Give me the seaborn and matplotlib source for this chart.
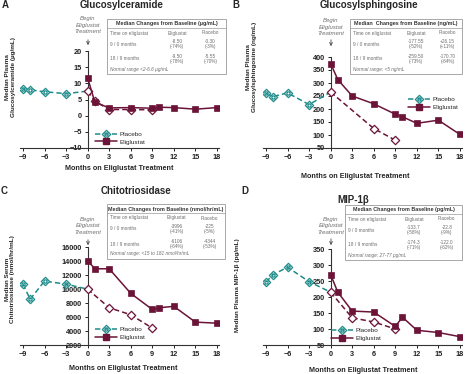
#Eliglustat biomarker panels: median values over time for placebo and eliglustat groups

#Import modules
import matplotlib
matplotlib.use('Agg')
import matplotlib.pyplot as plt
import seaborn as sb
from matplotlib.lines import Line2D
from matplotlib.patches import Rectangle, FancyArrowPatch
from matplotlib.path import Path

#Colours
teal = '#1E8C8A'
maroon = '#6B1438'
grey = '#6E6E6E'
frame_grey = '#9A9A9A'

#Shared months
placebo_months = [-9, -8, -6, -3, 0]
elig_months = [0, 1, 3, 6, 9, 10, 12, 15, 18]
month_ticks = [-9, -6, -3, 0, 3, 6, 9, 12, 15, 18]
table_cols = ['Time on eliglustat', 'Eliglustat', 'Placebo']

#A - Glucosylceramide (ug/mL)
glccer_placebo = [8.2, 8.0, 7.4, 6.8, 7.6]
glccer_cross_months = [0, 1, 3, 6, 9]
glccer_cross = [7.6, 4.5, 1.9, 1.9, 1.8]
glccer_elig = [11.7, 4.2, 2.4, 2.5, 2.3, 2.6, 2.5, 2.0, 2.5]
glccer_ticks = [-10, -5, 0, 5, 10, 15, 20]
glccer_rows = [['9 / 0 months', '-8.50\n(-74%)', '-0.30\n(-3%)'],
               ['18 / 9 months', '-9.50\n(-78%)', '-5.55\n(-70%)']]

#B - Glucosylsphingosine (ng/mL)
glcsph_placebo = [260, 248, 262, 217, 265]
glcsph_cross_months = [0, 6, 9]
glcsph_cross = [265, 125, 80]
glcsph_elig = [375, 313, 250, 220, 180, 170, 145, 157, 102]
glcsph_ticks = [50, 100, 150, 200, 250, 300, 350, 400]
glcsph_rows = [['9 / 0 months', '-177.55\n(-52%)', '+26.15\n(+11%)'],
               ['18 / 9 months', '-259.50\n(-73%)', '-170.70\n(-64%)']]

#C - Chitotriosidase (nmol/hr/mL)
chito_placebo = [10700, 8550, 11150, 10700, 10000]
chito_cross_months = [0, 3, 6, 9]
chito_cross = [10000, 7350, 6350, 4450]
chito_elig = [14050, 12900, 12900, 9400, 7100, 7350, 7550, 5300, 5150]
chito_ticks = [2000, 4000, 6000, 8000, 10000, 12000, 14000, 16000]
chito_rows = [['9 / 0 months', '-3996\n(-41%)', '-225\n(-5%)'],
              ['18 / 9 months', '-6106\n(-64%)', '-4344\n(-53%)']]

#D - MIP-1beta (pg/mL)
mip_placebo = [247, 270, 293, 248, 215]
mip_cross_months = [0, 3, 6, 9]
mip_cross = [215, 135, 122, 100]
mip_elig = [270, 215, 156, 153, 108, 137, 96, 89, 76]
mip_ticks = [50, 100, 150, 200, 250, 300, 350]
mip_rows = [['9 / 0 months', '-133.7\n(-58%)', '-22.8\n(-9%)'],
            ['18 / 9 months', '-174.3\n(-71%)', '-122.0\n(-62%)']]

#Style
sb.set_style('white')
plt.rcParams['font.family'] = ['Liberation Sans', 'DejaVu Sans']

#Markers: open diamond with a ring inside for placebo
diamond = Path([(0, 1), (1, 0), (0, -1), (-1, 0), (0, 1)],
               [Path.MOVETO, Path.LINETO, Path.LINETO, Path.LINETO, Path.CLOSEPOLY])
diamond_ring = Path.make_compound_path(diamond, Path.circle((0, 0), 0.38))
dash = (0, (3.5, 2))
dia_size = 6
sq_size = 4.8

W, H = 465, 374
fig = plt.figure(figsize=(W / 100, H / 100), dpi=100)

def fx(px):
    return px / W

def fy(py):
    return 1 - py / H

def draw_panel(rect, ylim, yticks, cross_months, placebo, cross, elig, legend_xy):
    left, top, right, bottom = rect
    ax = fig.add_axes([fx(left), fy(bottom), (right - left) / W, (bottom - top) / H])
    sb.lineplot(x=placebo_months, y=placebo, ax=ax, errorbar=None, color=teal, lw=1.1,
                linestyle=dash, marker=diamond_ring, markersize=dia_size, markerfacecolor='white',
                markeredgecolor=teal, markeredgewidth=0.9, markevery=[0, 1, 2, 3], zorder=3)
    sb.lineplot(x=cross_months, y=cross, ax=ax, errorbar=None, color=maroon, lw=1.1,
                linestyle=dash, marker=diamond, markersize=dia_size, markerfacecolor='white',
                markeredgecolor=maroon, markeredgewidth=0.9, zorder=4)
    sb.lineplot(x=elig_months, y=elig, ax=ax, errorbar=None, color=maroon, lw=1.1,
                marker='s', markersize=sq_size, markerfacecolor=maroon,
                markeredgecolor=maroon, markeredgewidth=0.5, zorder=5)
    ax.set_xlim(-9.4, 18.3)
    ax.set_ylim(*ylim)
    ax.set_xticks(month_ticks)
    ax.set_yticks(yticks)
    ax.set_xlabel('')
    ax.set_ylabel('')
    ax.spines['top'].set_visible(False)
    ax.spines['right'].set_visible(False)
    ax.spines['left'].set_position(('data', 0))
    for side in ['left', 'bottom']:
        ax.spines[side].set_color('#333333')
        ax.spines[side].set_linewidth(0.8)
    ax.tick_params(direction='out', length=2.5, width=0.7, labelsize=5.3, pad=1.5,
                   colors='#222222', left=True, bottom=True)
    for lab in ax.get_xticklabels() + ax.get_yticklabels():
        lab.set_fontweight('bold')
    ax.patch.set_alpha(0)

    handles = [Line2D([], [], color=teal, lw=1.1, linestyle=dash, marker=diamond_ring,
                      markersize=dia_size, markerfacecolor='white', markeredgecolor=teal,
                      markeredgewidth=0.9),
               Line2D([], [], color=maroon, lw=1.1, marker='s', markersize=sq_size,
                      markerfacecolor=maroon, markeredgecolor=maroon)]
    ax.legend(handles, ['Placebo', 'Eliglustat'], loc='center left',
              bbox_to_anchor=(fx(legend_xy[0]), fy(legend_xy[1])), bbox_transform=fig.transFigure,
              frameon=False, fontsize=4.6, handlelength=3.4, handletextpad=0.4,
              labelspacing=0.35, borderpad=0, borderaxespad=0)
    return ax

def draw_table(box, header, rows, normal):
    x0, y0, x1, y1 = box
    w = x1 - x0
    fig.add_artist(Rectangle((fx(x0), fy(y1)), w / W, (y1 - y0) / H, transform=fig.transFigure,
                             fill=False, ec=frame_grey, lw=0.6))
    fig.add_artist(Line2D([fx(x0), fx(x1)], [fy(y0 + 9)] * 2, transform=fig.transFigure,
                          color=frame_grey, lw=0.5))
    fig.text(fx(x0 + w / 2), fy(y0 + 5), header, ha='center', va='center',
             fontsize=3.9, fontweight='bold', color='#333333')
    col_x = [x0 + 3, x0 + 0.59 * w, x0 + 0.87 * w]
    aligns = ['left', 'center', 'center']
    for text, cx, ha in zip(table_cols, col_x, aligns):
        fig.text(fx(cx), fy(y0 + 14), text, ha=ha, va='center', fontsize=3.4, color=grey)
    for row, ry in zip(rows, [y0 + 25, y0 + 40]):
        for text, cx, ha in zip(row, col_x, aligns):
            fig.text(fx(cx), fy(ry), text, ha=ha, va='center', fontsize=3.4, color=grey,
                     linespacing=1.1)
    fig.text(fx(x0 + 3), fy(y1 - 5), normal, ha='left', va='center', fontsize=3.4,
             style='italic', color=grey)

def draw_begin(cx, text_y, arrow_top, arrow_bottom):
    fig.text(fx(cx), fy(text_y), 'Begin\nEliglustat\nTreatment', ha='center', va='center',
             fontsize=4.3, style='italic', color=grey, linespacing=1.3)
    fig.add_artist(FancyArrowPatch((fx(cx), fy(arrow_top)), (fx(cx), fy(arrow_bottom)),
                                   transform=fig.transFigure, arrowstyle='->',
                                   mutation_scale=5, lw=0.6, color='#444444'))

def label_panel(letter, letter_xy, title, title_xy, ylabel, ylabel_xy, xlabel_xy):
    fig.text(fx(letter_xy[0]), fy(letter_xy[1]), letter, ha='center', va='center',
             fontsize=7, fontweight='bold')
    fig.text(fx(title_xy[0]), fy(title_xy[1]), title, ha='center', va='center',
             fontsize=7, fontweight='bold')
    fig.text(fx(ylabel_xy[0]), fy(ylabel_xy[1]), ylabel, ha='center', va='center',
             rotation=90, fontsize=4.6, fontweight='bold', linespacing=1.2)
    fig.text(fx(xlabel_xy[0]), fy(xlabel_xy[1]), 'Months on Eliglustat Treatment',
             ha='center', va='center', fontsize=5.2, fontweight='bold')

#Panel A
draw_panel((20.1, 51, 219.1, 148), (-10, 20), glccer_ticks, glccer_cross_months,
           glccer_placebo, glccer_cross, glccer_elig, (95, 138))
draw_table((107, 19, 226, 74), 'Median Changes from Baseline (\u00b5g/mL)', glccer_rows,
           'Normal range <2-6.6 \u00b5g/mL')
draw_begin(88, 25, 37, 48)
label_panel('A', (5, 5), 'Glucosylceramide', (122, 5),
            'Median Plasma\nGlucosylceramide (\u00b5g/mL)', (10.5, 77), (119, 168))

#Panel B
draw_panel((263.1, 57, 462.1, 148), (50, 400), glcsph_ticks, glcsph_cross_months,
           glcsph_placebo, glcsph_cross, glcsph_elig, (408, 103.5))
draw_table((350, 19, 462, 74), 'Median  Changes from Baseline (ng/mL)', glcsph_rows,
           'Normal range: <5 ng/mL')
draw_begin(331, 27, 37, 49)
label_panel('B', (236, 5), 'Glucosylsphingosine', (369, 5),
            'Median Plasma\nGlucosylsphingosine (ng/mL)', (251.5, 67), (355, 176))

#Panel C
draw_panel((20.1, 247, 219.1, 345.3), (2000, 16000), chito_ticks, chito_cross_months,
           chito_placebo, chito_cross, chito_elig, (95, 333.5))
draw_table((107, 204, 225, 259), 'Median Changes from Baseline (nmol/hr/mL)', chito_rows,
           'Normal range: <15 to 181 nmol/hr/mL')
draw_begin(88, 226, 237, 248)
label_panel('C', (4, 191), 'Chitotriosidase', (136, 191),
            'Median Serum\nChitotriosidase (nmol/hr/mL)', (10, 279), (123, 369))

#Panel D
draw_panel((263.1, 249, 462.1, 345), (50, 350), mip_ticks, mip_cross_months,
           mip_placebo, mip_cross, mip_elig, (331, 334.5))
draw_table((345, 205, 462, 260), 'Median Changes from Baseline (pg/mL)', mip_rows,
           'Normal range: 27-77 pg/mL')
draw_begin(331, 226, 236, 248)
label_panel('D', (245, 191), 'MIP-1\u03b2', (353, 200),
            'Median Plasma MIP-1\u03b2 (pg/mL)', (237, 285), (363, 370))

fig.savefig('out.png', dpi=100)
